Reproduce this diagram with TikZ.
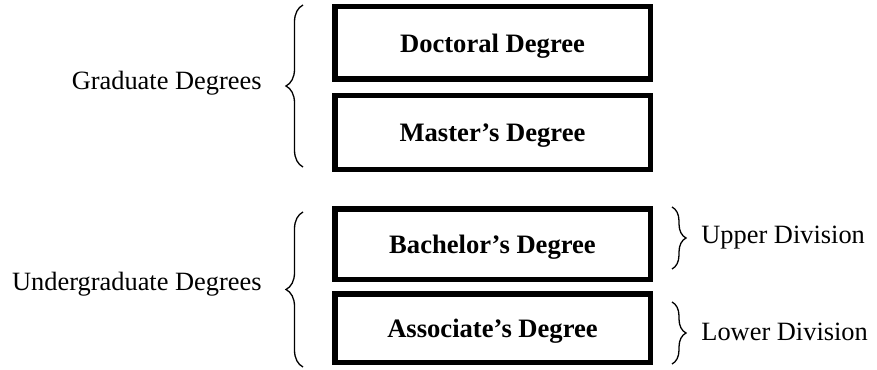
\documentclass[tikz,border=0pt]{standalone}
\usepackage{fontspec}
\setmainfont{Liberation Serif}
\usetikzlibrary{decorations.pathreplacing}
\begin{document}
\begin{tikzpicture}[x=0.5pt,y=-0.5pt,
  degbox/.style={draw=black,line width=2.75pt,fill=white,minimum width=157.75pt,inner sep=0pt,
    text depth=0pt,font=\fontsize{13.3}{15}\selectfont\bfseries},
  lbl/.style={inner sep=0pt,font=\fontsize{13.2}{15}\selectfont},
  bigbrace/.style={decorate,decoration={brace,amplitude=8.5pt,aspect=0.5},line width=0.65pt},
  smallbrace/.style={decorate,decoration={brace,amplitude=7pt,aspect=0.5},line width=0.65pt}]
\useasboundingbox (0,0) rectangle (877,369);
% boxes
\node[degbox,minimum height=36.25pt] (doc) at (492.5,43) {Doctoral Degree};
\node[degbox,minimum height=36.75pt] (mas) at (492.5,132.5) {Master’s Degree};
\node[degbox,minimum height=35.25pt] (bac) at (492.5,244) {Bachelor’s Degree};
\node[degbox,minimum height=34.25pt] (ass) at (492.5,328) {Associate’s Degree};
% brace end points
\coordinate (g1) at (303,167);
\coordinate (g2) at (303,5);
\coordinate (u1) at (303,367);
\coordinate (u2) at (303,212);
\coordinate (p1) at (672,207);
\coordinate (p2) at (672,269);
\coordinate (l1) at (672,302);
\coordinate (l2) at (672,364);
\draw[bigbrace] (g1) -- (g2);
\draw[bigbrace] (u1) -- (u2);
\draw[smallbrace] (p1) -- (p2);
\draw[smallbrace] (l1) -- (l2);
% labels
\node[lbl,anchor=base east] (grad) at (262,90) {Graduate Degrees};
\node[lbl,anchor=base east] (under) at (262,290) {Undergraduate Degrees};
\node[lbl,anchor=base west] (upper) at (701,243) {Upper Division};
\node[lbl,anchor=base west] (lower) at (701,340) {Lower Division};
\end{tikzpicture}
\end{document}
